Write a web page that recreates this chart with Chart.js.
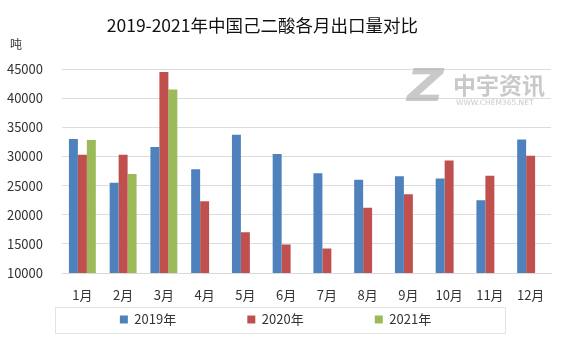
<!DOCTYPE html>
<html>
<head>
<meta charset="utf-8">
<script src="https://cdn.jsdelivr.net/npm/chart.js@4"></script>
<style>
  html, body { margin: 0; padding: 0; background: #fff; }
  #wrap { width: 567px; height: 341px; position: relative; }
</style>
</head>
<body>
<div id="wrap"><canvas id="exportChart"></canvas></div>
<script>
// 月份
const months = ['1月', '2月', '3月', '4月', '5月', '6月', '7月', '8月', '9月', '10月', '11月', '12月'];
// 各年出口量（吨）
const exports2019 = [33000, 25500, 31600, 27800, 33700, 30400, 27100, 26000, 26600, 26200, 22500, 32900];
const exports2020 = [30300, 30300, 44500, 22300, 17000, 14900, 14200, 21200, 23500, 29300, 26700, 30100];
const exports2021 = [32800, 27000, 41500, null, null, null, null, null, null, null, null, null];
const seriesNames = ['2019年', '2020年', '2021年'];
const yTicks = [10000, 15000, 20000, 25000, 30000, 35000, 40000, 45000];

const FONT = '"Noto Sans CJK SC", "Noto Sans", sans-serif';

// 单位、水印和图例边框
const extrasPlugin = {
    id: 'extras',
    afterDraw(chart) {
        const ctx = chart.ctx;
        ctx.save();
        ctx.fillStyle = '#333';
        ctx.font = '12px ' + FONT;
        ctx.textBaseline = 'middle';
        ctx.textAlign = 'left';
        ctx.fillText('吨', 10, 44);

        // 水印
        ctx.fillStyle = 'rgba(165,165,165,0.6)';
        ctx.save();
        ctx.translate(407, 90);
        ctx.scale(1.15, 1);
        ctx.font = 'bold italic 44px "DejaVu Sans", sans-serif';
        ctx.fillText('Z', 0, 0);
        ctx.restore();
        ctx.font = 'bold 23px ' + FONT;
        ctx.fillText('中宇资讯', 453, 85);
        ctx.font = '7.5px "DejaVu Sans", sans-serif';
        ctx.fillText('WWW.CHEM365.NET', 456, 103);

        // 图例边框
        ctx.strokeStyle = '#e3e3e3';
        ctx.lineWidth = 1;
        ctx.strokeRect(55.5, 307.5, 450, 26);
        ctx.restore();
    }
};

new Chart(document.getElementById('exportChart'), {
    type: 'bar',
    data: {
        labels: months,
        datasets: [
            { label: seriesNames[0], data: exports2019, backgroundColor: '#4F81BD' },
            { label: seriesNames[1], data: exports2020, backgroundColor: '#C0504D' },
            { label: seriesNames[2], data: exports2021, backgroundColor: '#9BBB59' }
        ]
    },
    options: {
        responsive: true,
        maintainAspectRatio: false,
        animation: false,
        datasets: {
            bar: { categoryPercentage: 0.66, barPercentage: 1 }
        },
        layout: { padding: { left: 0, right: 16, top: 0, bottom: 5 } },
        scales: {
            x: {
                afterFit(scale) { scale.height = 30; },
                grid: { display: false, drawTicks: false },
                border: { display: true, color: '#d9d9d9' },
                ticks: { color: '#333', font: { family: FONT, size: 13 }, padding: 14, maxRotation: 0, autoSkip: false }
            },
            y: {
                min: 10000,
                max: 45000,
                afterFit(scale) { scale.width = 62; },
                afterBuildTicks(scale) { scale.ticks = yTicks.map(v => ({ value: v })); },
                grid: { color: '#dcdcdc', drawTicks: false },
                border: { display: false },
                ticks: {
                    color: '#333',
                    font: { family: FONT, size: 13 },
                    padding: 19,
                    callback: value => String(value)
                }
            }
        },
        plugins: {
            title: {
                display: true,
                // 末尾空格让标题略向左偏
                text: '2019-2021年中国己二酸各月出口量对比\u2003\u2002',
                color: '#111',
                font: { family: FONT, size: 17.5, weight: 'normal' },
                padding: { top: 15, bottom: 33 }
            },
            legend: {
                position: 'bottom',
                labels: {
                    boxWidth: 8,
                    boxHeight: 8,
                    padding: 10,
                    color: '#333',
                    font: { family: FONT, size: 13 },
                    generateLabels(chart) {
                        const items = Chart.defaults.plugins.legend.labels.generateLabels(chart);
                        items.forEach((item, i) => {
                            if (i < items.length - 1) item.text += '\u2003\u2003\u2003\u2003\u2002\u2009';
                        });
                        return items;
                    }
                }
            },
            tooltip: { enabled: false }
        }
    },
    plugins: [extrasPlugin]
});
</script>
</body>
</html>
